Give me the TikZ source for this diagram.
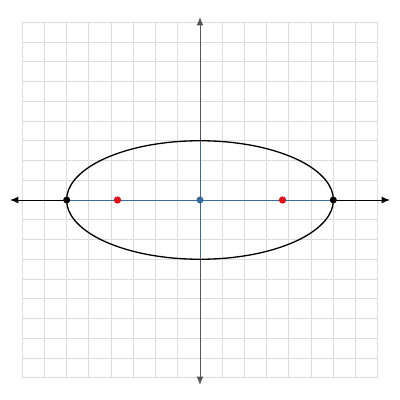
\documentclass[tikz,border=0pt]{standalone}
\usetikzlibrary{arrows.meta}
\definecolor{gridc}{HTML}{DCDCDC}
\definecolor{axblue}{HTML}{3A6AA0}
\definecolor{focred}{HTML}{E3131B}
\definecolor{vaxis}{HTML}{555555}
\begin{document}
\begin{tikzpicture}[x=22.222bp,y=19.75bp,
  gridline/.style={gridc,line width=0.9bp},
  axisline/.style={line width=1bp,-{Latex[length=8.5bp,width=7bp]}},
  dotmark/.style={circle,inner sep=0pt,minimum size=7bp},
  majorax/.style={axblue,line width=0.9bp}]
\useasboundingbox (-200bp,-200bp) rectangle (200bp,200bp);
\fill[white] (-200bp,-200bp) rectangle (200bp,200bp);
% grid
\foreach \i in {-8,...,8} \draw[gridline] (\i,-9) -- (\i,9);
\foreach \j in {-9,...,9} \draw[gridline] (-8,\j) -- (8,\j);
% coordinates
\coordinate (O) at (0,0);
\coordinate (xl) at (-190bp,0);
\coordinate (xr) at (190bp,0);
\coordinate (yt) at (0,183bp);
\coordinate (yb) at (0,-185bp);
\coordinate (top) at (0,3);
\coordinate (bot) at (0,-3);
% axes
\draw[axisline,black] (O) -- (xl);
\draw[axisline,black] (O) -- (xr);
\draw[axisline,vaxis] (O) -- (yt);
\draw[axisline,vaxis] (O) -- (yb);
% ellipse
\draw[black,line width=1.3bp] (O) ellipse [x radius=6, y radius=3];
% vertices and foci
\node[dotmark,fill=black] (vl) at (-6,0) {};
\node[dotmark,fill=black] (vr) at (6,0) {};
\node[dotmark,fill=focred] (fl) at (-82.5bp,0) {};
\node[dotmark,fill=focred] (fr) at (82.5bp,0) {};
% axes of ellipse
\draw[majorax] (vl) -- (fl) -- (fr) -- (vr);
\draw[majorax] (top) -- (bot);
\node[dotmark,fill=focred] at (fl) {};
\node[dotmark,fill=focred] at (fr) {};
\node[dotmark,fill=axblue] (c) at (O) {};
\end{tikzpicture}
\end{document}
